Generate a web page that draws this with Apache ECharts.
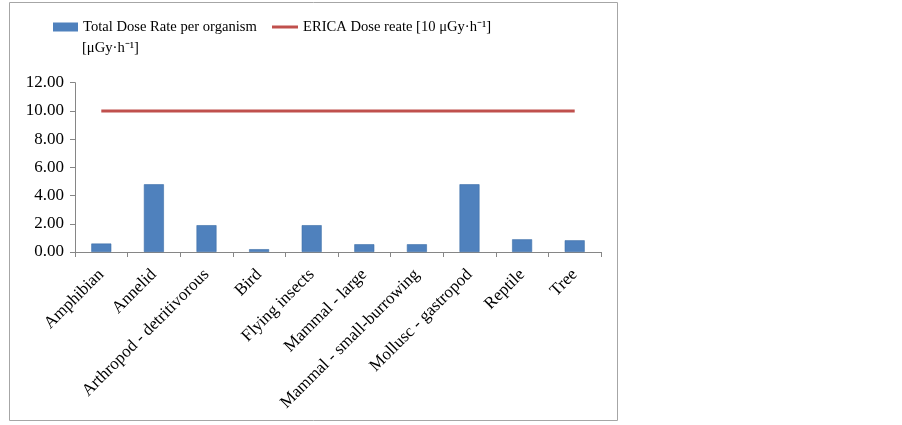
<!DOCTYPE html>
<html><head><meta charset="utf-8">
<script src="https://cdn.jsdelivr.net/npm/echarts@6/dist/echarts.min.js"></script>
<style>html,body{margin:0;padding:0;background:#fff}#c{width:902px;height:425px}</style>
</head><body><div id="c"></div>
<script>
var categories = ['Amphibian','Annelid','Arthropod - detritivorous','Bird','Flying insects','Mammal - large','Mammal - small-burrowing','Mollusc - gastropod','Reptile','Tree'];
var doseRates = [0.6, 4.8, 1.9, 0.2, 1.9, 0.55, 0.55, 4.8, 0.9, 0.83];
var ericaLevel = [10,10,10,10,10,10,10,10,10,10];
var yTicks = {min:0, max:12, interval:2};
var barName = 'Total Dose Rate per organism';
var lineName = 'ERICA Dose reate [10 μGy·h⁻¹]';
var font = 'Liberation Serif, Times New Roman, serif';
var chart = echarts.init(document.getElementById('c'));
chart.setOption({
  animation:false,
  textStyle:{fontFamily:font},
  graphic:[
    {type:'rect', shape:{x:9.5,y:2.5,width:608,height:418}, style:{fill:'none',stroke:'#a6a6a6',lineWidth:1}},
    {type:'text', left:82, top:41, style:{text:'[μGy·h⁻¹]', font:'14.6px '+font, fill:'#000'}}
  ],
  legend:[
    {data:[barName], left:53, top:19.5, padding:0, icon:'rect', itemWidth:25, itemHeight:9, itemGap:0,
      itemStyle:{borderWidth:0}, textStyle:{fontSize:14.6,color:'#000',fontFamily:font}},
    {data:[lineName], left:272, top:19.5, padding:0, icon:'rect', itemWidth:26, itemHeight:3,
      itemStyle:{borderWidth:0}, textStyle:{fontSize:14.6,color:'#000',fontFamily:font}}
  ],
  grid:{left:75, right:301, top:82.7, bottom:173, containLabel:false},
  xAxis:{type:'category', data:categories, boundaryGap:true,
    axisLine:{lineStyle:{color:'#868686'}},
    axisTick:{show:true, alignWithLabel:false, length:5, lineStyle:{color:'#868686'}},
    axisLabel:{interval:0, rotate:45, fontSize:17, color:'#000', fontFamily:font, margin:20}},
  yAxis:{type:'value', min:yTicks.min, max:yTicks.max, interval:yTicks.interval,
    axisLine:{show:true, lineStyle:{color:'#868686'}},
    axisTick:{show:true, length:5, lineStyle:{color:'#868686'}},
    splitLine:{show:false},
    axisLabel:{fontSize:17, color:'#000', fontFamily:font, margin:11, formatter:function(v){return v.toFixed(2);}}},
  series:[
    {name:barName, type:'bar', data:doseRates, barWidth:20,
      itemStyle:{color:'#4F81BD', borderColor:'#3d6ea8', borderWidth:0.6}},
    {name:lineName, type:'line', data:ericaLevel, symbol:'none', showSymbol:false,
      lineStyle:{color:'#C0504D', width:3}, itemStyle:{color:'#C0504D'}}
  ]
});
</script></body></html>
